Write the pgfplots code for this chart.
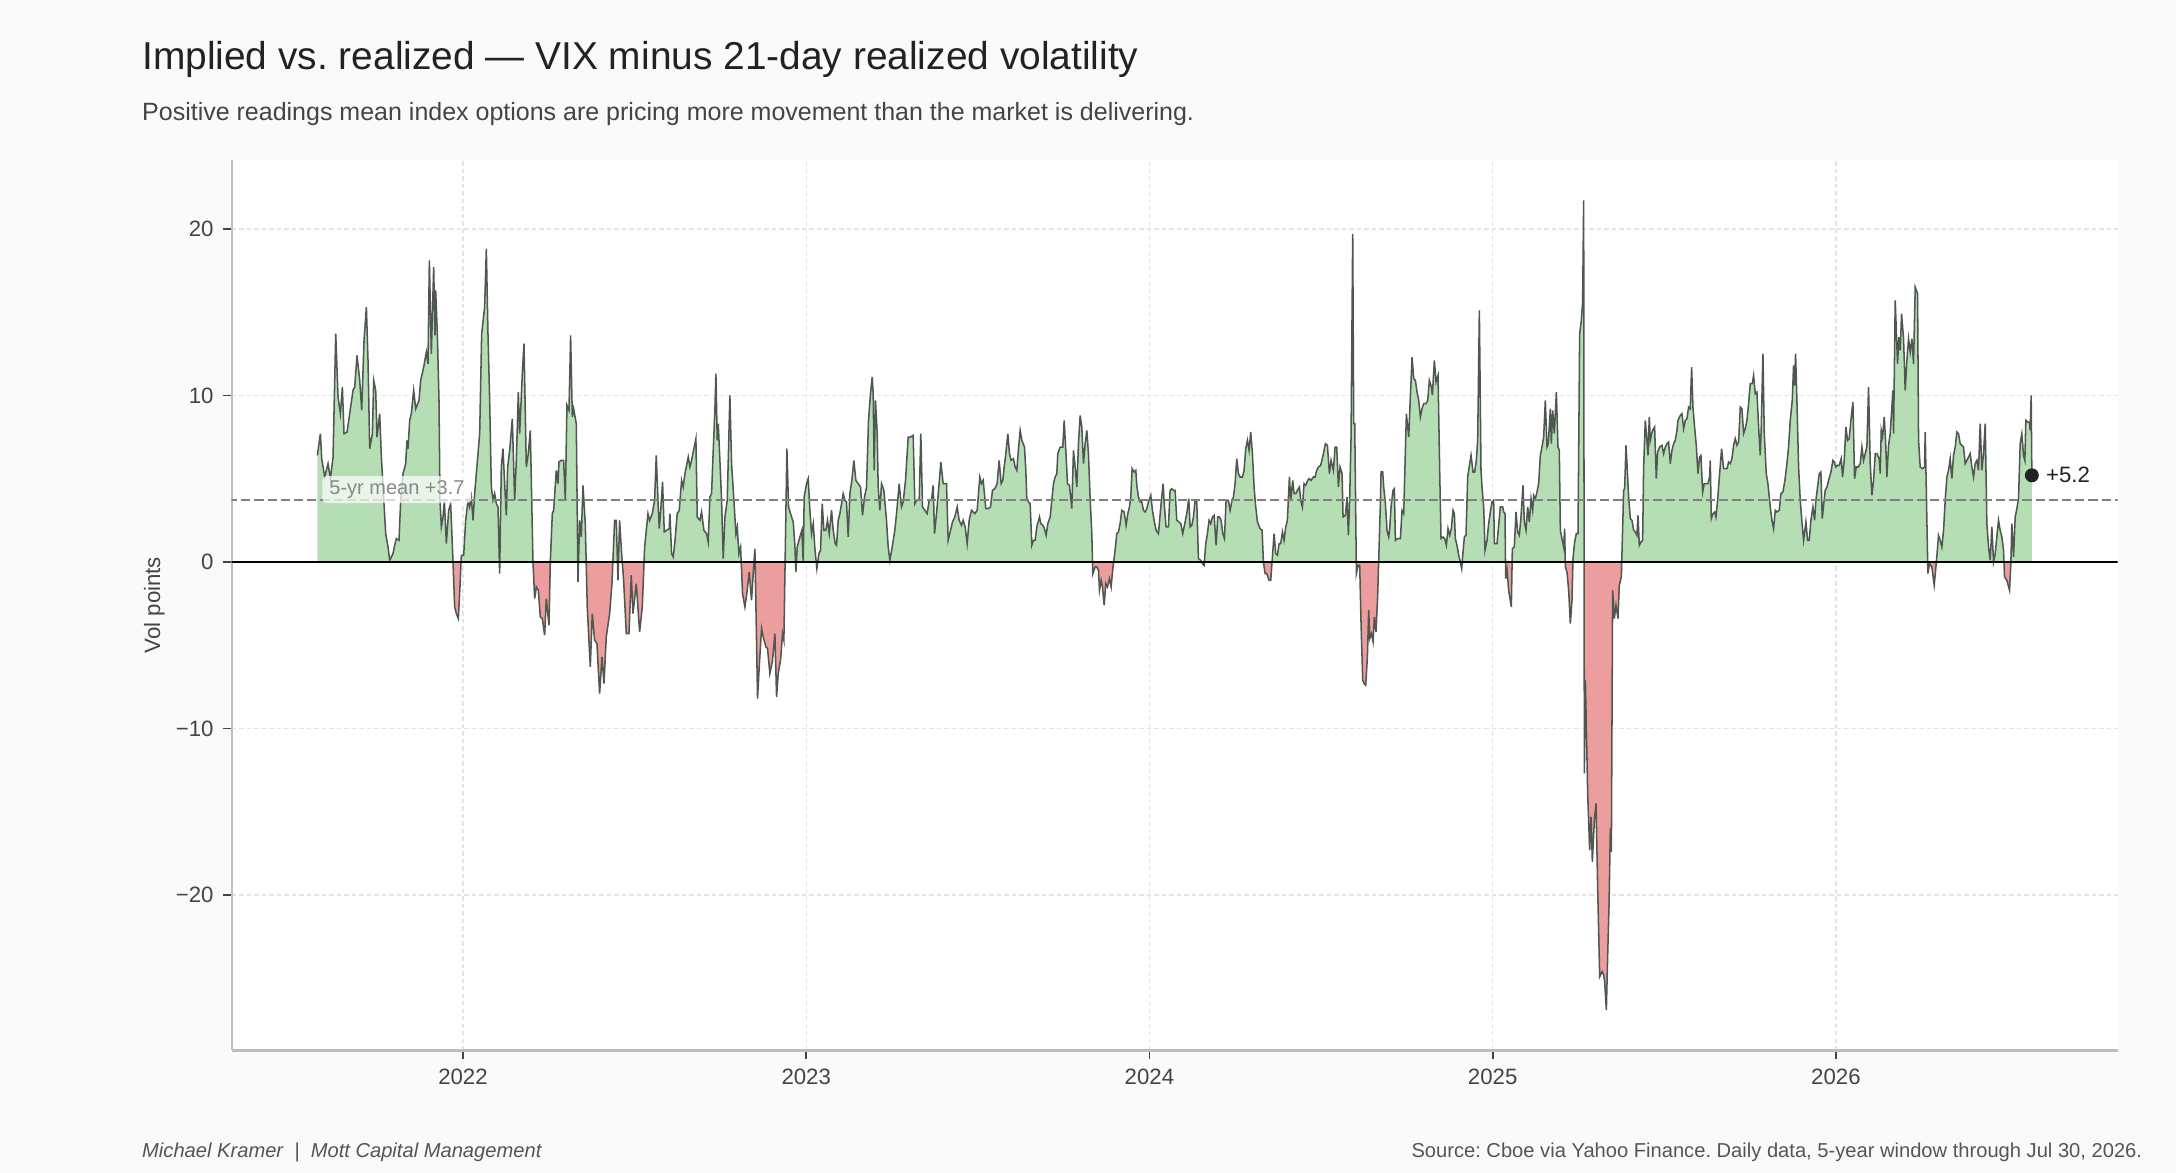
\documentclass[border=0pt]{standalone}
\usepackage{fontspec}
\setmainfont{Liberation Sans}
\usepackage{pgfplots}
\pgfplotsset{compat=1.18}
\usepackage{pgfplotstable}
\frenchspacing
\definecolor{bgc}{RGB}{250,250,250}
\definecolor{titlec}{RGB}{34,34,34}
\definecolor{subc}{RGB}{68,68,68}
\definecolor{tickc}{RGB}{68,68,68}
\definecolor{footc}{RGB}{85,85,85}
\definecolor{gridc}{RGB}{228,228,228}
\definecolor{spinec}{RGB}{190,190,190}
\definecolor{posg}{RGB}{181,222,181}
\definecolor{negr}{RGB}{236,158,158}
\definecolor{linec}{RGB}{80,87,80}
\definecolor{meanc}{RGB}{128,128,128}
\definecolor{annc}{RGB}{136,136,136}
\definecolor{dotc}{RGB}{34,34,34}

\pgfplotstableread{
x y
2021.5758 6.4
2021.5845 7.7
2021.5884 6.2
2021.5971 5.1
2021.6068 5.9
2021.6136 5.0
2021.6214 6.3
2021.6292 13.7
2021.6360 9.9
2021.6427 8.9
2021.6486 10.5
2021.6534 7.7
2021.6622 7.8
2021.6699 8.9
2021.6796 10.3
2021.6845 10.5
2021.6913 12.4
2021.6991 10.9
2021.7049 9.1
2021.7117 13.3
2021.7185 15.3
2021.7233 12.1
2021.7282 6.8
2021.7360 7.7
2021.7398 10.9
2021.7457 10.3
2021.7495 7.5
2021.7573 8.9
2021.7622 6.3
2021.7748 1.7
2021.7816 0.9
2021.7864 0.1
2021.7961 0.5
2021.8010 1.0
2021.8059 1.4
2021.8136 1.3
2021.8185 3.7
2021.8253 5.3
2021.8330 5.9
2021.8369 7.3
2021.8398 6.8
2021.8447 8.5
2021.8495 8.9
2021.8563 10.3
2021.8622 9.2
2021.8719 9.7
2021.8767 10.9
2021.8855 11.7
2021.8932 12.6
2021.8981 11.9
2021.9020 18.1
2021.9078 12.5
2021.9146 17.7
2021.9185 13.6
2021.9204 16.3
2021.9253 13.7
2021.9301 9.7
2021.9330 3.7
2021.9369 2.1
2021.9418 2.7
2021.9457 3.7
2021.9515 1.1
2021.9583 3.1
2021.9641 3.5
2021.9709 0.0
2021.9758 -2.7
2021.9806 -3.1
2021.9864 -3.4
2021.9903 -1.9
2021.9952 0.4
2022.0020 0.4
2022.0078 2.5
2022.0146 3.7
2022.0194 3.3
2022.0243 3.9
2022.0292 2.5
2022.0340 4.1
2022.0389 5.3
2022.0486 7.7
2022.0544 13.7
2022.0631 15.3
2022.0680 18.8
2022.0728 13.7
2022.0777 9.7
2022.0826 4.5
2022.0874 3.7
2022.0923 4.1
2022.0971 3.5
2022.1020 3.3
2022.1068 -0.7
2022.1117 5.7
2022.1165 6.8
2022.1214 4.7
2022.1262 2.8
2022.1301 5.7
2022.1360 6.7
2022.1437 8.6
2022.1505 3.7
2022.1554 6.1
2022.1612 10.2
2022.1651 7.7
2022.1728 11.3
2022.1777 13.1
2022.1845 5.7
2022.1903 6.5
2022.1961 7.9
2022.2039 0.0
2022.2088 -2.2
2022.2136 -1.5
2022.2194 -1.7
2022.2253 -3.3
2022.2311 -3.4
2022.2379 -4.4
2022.2427 -2.2
2022.2505 -3.8
2022.2544 0.0
2022.2602 2.9
2022.2641 3.1
2022.2719 5.5
2022.2767 4.7
2022.2796 6.0
2022.2864 6.1
2022.2932 6.1
2022.2981 3.7
2022.3029 9.4
2022.3088 9.1
2022.3136 13.6
2022.3185 8.7
2022.3224 9.2
2022.3301 8.3
2022.3350 -1.2
2022.3398 2.5
2022.3447 1.5
2022.3495 4.6
2022.3563 2.3
2022.3620 -2.7
2022.3709 -6.3
2022.3767 -3.1
2022.3835 -4.7
2022.3903 -4.9
2022.3981 -7.9
2022.4049 -5.7
2022.4107 -7.3
2022.4175 -4.5
2022.4272 -3.1
2022.4340 -1.3
2022.4418 2.5
2022.4466 2.5
2022.4515 -1.1
2022.4563 2.5
2022.4622 0.5
2022.4680 -1.1
2022.4758 -4.3
2022.4835 -4.3
2022.4903 -0.8
2022.4952 -3.1
2022.5049 -1.3
2022.5146 -4.2
2022.5224 -2.7
2022.5292 0.9
2022.5389 2.9
2022.5437 2.5
2022.5515 2.9
2022.5583 3.7
2022.5631 6.4
2022.5689 3.3
2022.5718 2.0
2022.5767 3.3
2022.5815 4.8
2022.5864 1.8
2022.5932 1.9
2022.6009 2.0
2022.6029 2.9
2022.6077 0.5
2022.6126 0.3
2022.6174 1.2
2022.6242 2.9
2022.6301 3.1
2022.6369 4.9
2022.6417 4.5
2022.6466 5.3
2022.6563 6.3
2022.6611 5.7
2022.6660 6.1
2022.6728 6.8
2022.6786 7.4
2022.6825 2.7
2022.6903 2.5
2022.6951 3.0
2022.7019 1.9
2022.7097 1.7
2022.7145 1.2
2022.7194 3.9
2022.7242 4.1
2022.7291 6.7
2022.7339 9.1
2022.7369 11.3
2022.7407 7.3
2022.7437 8.3
2022.7485 6.1
2022.7534 3.7
2022.7582 0.2
2022.7631 2.7
2022.7699 3.7
2022.7776 10.0
2022.7825 5.9
2022.7893 3.7
2022.7951 1.7
2022.7990 2.1
2022.8038 0.5
2022.8087 0.9
2022.8145 -1.9
2022.8213 -2.7
2022.8281 -1.7
2022.8339 -0.6
2022.8407 -2.3
2022.8456 -0.7
2022.8505 0.8
2022.8582 -8.2
2022.8631 -6.3
2022.8699 -4.0
2022.8747 -4.5
2022.8825 -5.1
2022.8873 -5.2
2022.8941 -6.7
2022.9019 -5.9
2022.9087 -4.3
2022.9136 -8.1
2022.9184 -6.7
2022.9252 -5.9
2022.9310 -4.3
2022.9349 -4.7
2022.9437 6.8
2022.9485 3.3
2022.9543 2.9
2022.9621 2.4
2022.9670 1.0
2022.9699 -0.6
2022.9738 0.9
2022.9815 1.5
2022.9873 1.9
2022.9912 0.0
2022.9941 3.9
2023.0009 4.7
2023.0058 5.0
2023.0106 3.1
2023.0155 1.7
2023.0204 2.3
2023.0252 0.8
2023.0310 -0.4
2023.0369 0.5
2023.0417 0.7
2023.0466 3.5
2023.0514 1.9
2023.0572 1.9
2023.0621 2.5
2023.0670 1.7
2023.0738 3.1
2023.0786 1.9
2023.0844 1.1
2023.0883 1.0
2023.0932 2.5
2023.0980 2.9
2023.1038 3.6
2023.1077 4.1
2023.1126 3.7
2023.1174 3.6
2023.1223 1.5
2023.1272 4.1
2023.1330 4.9
2023.1388 6.1
2023.1446 4.9
2023.1514 4.7
2023.1582 4.5
2023.1640 2.8
2023.1699 3.9
2023.1757 4.5
2023.1815 8.5
2023.1873 10.1
2023.1922 11.1
2023.1951 10.1
2023.1980 5.5
2023.2019 9.7
2023.2068 7.7
2023.2097 4.5
2023.2145 3.1
2023.2194 4.7
2023.2262 4.3
2023.2339 2.5
2023.2388 0.9
2023.2437 0.1
2023.2505 0.9
2023.2582 1.9
2023.2650 3.3
2023.2708 4.7
2023.2776 3.3
2023.2825 3.6
2023.2893 4.9
2023.2971 7.5
2023.3038 7.5
2023.3116 7.6
2023.3165 3.5
2023.3213 3.7
2023.3291 3.7
2023.3339 7.7
2023.3388 3.3
2023.3456 3.1
2023.3524 2.9
2023.3582 3.7
2023.3650 3.7
2023.3699 4.6
2023.3738 1.7
2023.3796 2.9
2023.3864 4.5
2023.3922 6.0
2023.3990 4.7
2023.4087 4.7
2023.4136 1.3
2023.4204 1.9
2023.4262 2.4
2023.4330 2.7
2023.4398 3.3
2023.4456 2.5
2023.4524 2.2
2023.4572 2.5
2023.4631 2.1
2023.4689 1.1
2023.4747 2.5
2023.4815 3.1
2023.4912 2.9
2023.4980 3.1
2023.5058 5.1
2023.5106 4.7
2023.5155 4.9
2023.5233 3.2
2023.5301 3.2
2023.5369 3.3
2023.5427 4.3
2023.5495 4.4
2023.5563 4.7
2023.5621 6.1
2023.5680 4.7
2023.5728 4.9
2023.5767 5.7
2023.5816 6.5
2023.5874 7.7
2023.5922 6.5
2023.5971 6.1
2023.6039 6.2
2023.6087 5.7
2023.6136 5.5
2023.6185 6.8
2023.6233 7.9
2023.6282 7.3
2023.6359 6.9
2023.6398 5.5
2023.6427 3.8
2023.6476 3.6
2023.6524 3.5
2023.6573 1.0
2023.6621 1.3
2023.6670 1.3
2023.6718 2.1
2023.6796 2.7
2023.6835 2.3
2023.6893 2.2
2023.6942 2.0
2023.6990 1.6
2023.7039 2.3
2023.7107 2.7
2023.7155 3.7
2023.7204 4.7
2023.7252 5.1
2023.7301 5.3
2023.7330 6.5
2023.7398 6.9
2023.7476 6.9
2023.7515 8.5
2023.7563 6.7
2023.7612 4.7
2023.7670 4.6
2023.7738 3.2
2023.7786 6.7
2023.7835 5.7
2023.7884 4.5
2023.7932 7.1
2023.7981 8.8
2023.8029 8.1
2023.8078 5.9
2023.8126 7.1
2023.8175 7.9
2023.8223 6.5
2023.8272 3.8
2023.8320 1.7
2023.8350 -0.7
2023.8418 -0.3
2023.8466 -0.3
2023.8515 -0.5
2023.8544 -1.7
2023.8592 -1.1
2023.8631 -1.5
2023.8680 -2.6
2023.8728 -1.3
2023.8777 -1.5
2023.8835 -1.0
2023.8884 -1.5
2023.8932 -0.4
2023.9000 0.7
2023.9049 1.7
2023.9097 1.8
2023.9146 2.3
2023.9194 3.1
2023.9262 3.0
2023.9320 2.2
2023.9369 2.9
2023.9418 3.3
2023.9456 3.9
2023.9495 5.6
2023.9553 5.4
2023.9602 5.5
2023.9631 4.6
2023.9680 3.9
2023.9728 3.6
2023.9777 3.6
2023.9825 3.1
2023.9874 3.0
2023.9922 3.2
2023.9971 3.6
2024.0039 4.0
2024.0087 3.1
2024.0136 2.5
2024.0194 1.9
2024.0262 1.7
2024.0340 3.5
2024.0398 4.7
2024.0437 3.3
2024.0485 2.1
2024.0553 2.1
2024.0602 4.3
2024.0651 4.4
2024.0699 4.3
2024.0748 4.3
2024.0796 2.5
2024.0864 2.4
2024.0913 2.3
2024.0971 1.7
2024.1019 2.2
2024.1087 2.9
2024.1146 3.8
2024.1185 2.1
2024.1233 2.2
2024.1282 2.7
2024.1330 3.7
2024.1379 3.6
2024.1427 0.2
2024.1495 0.1
2024.1544 -0.1
2024.1592 -0.2
2024.1641 1.1
2024.1689 1.7
2024.1738 2.5
2024.1786 2.3
2024.1835 2.7
2024.1884 2.8
2024.1942 1.0
2024.1990 2.7
2024.2039 2.7
2024.2087 2.5
2024.2136 1.7
2024.2185 1.4
2024.2233 3.7
2024.2301 3.7
2024.2350 3.1
2024.2408 3.7
2024.2447 3.9
2024.2495 4.7
2024.2544 6.2
2024.2592 5.3
2024.2641 5.1
2024.2709 5.1
2024.2757 5.5
2024.2806 6.8
2024.2854 7.3
2024.2903 6.7
2024.2951 7.8
2024.3000 6.5
2024.3049 4.5
2024.3087 3.5
2024.3146 2.4
2024.3223 2.0
2024.3282 1.9
2024.3320 0.0
2024.3369 -0.7
2024.3418 -0.7
2024.3485 -1.1
2024.3534 -1.1
2024.3631 1.7
2024.3680 0.5
2024.3728 0.4
2024.3777 1.1
2024.3825 1.1
2024.3874 1.8
2024.3922 1.3
2024.3971 2.1
2024.4019 2.5
2024.4078 5.1
2024.4117 3.7
2024.4175 4.9
2024.4214 4.1
2024.4262 4.1
2024.4311 4.3
2024.4369 4.5
2024.4408 3.7
2024.4456 3.3
2024.4505 4.7
2024.4553 4.6
2024.4612 4.9
2024.4660 5.0
2024.4709 4.9
2024.4777 5.1
2024.4825 5.1
2024.4874 5.5
2024.4922 5.7
2024.4990 5.8
2024.5068 6.5
2024.5126 7.1
2024.5185 7.0
2024.5243 5.3
2024.5291 6.1
2024.5359 5.5
2024.5408 6.9
2024.5456 6.9
2024.5505 4.5
2024.5553 5.7
2024.5612 5.3
2024.5641 2.7
2024.5709 2.8
2024.5757 3.9
2024.5796 1.6
2024.5835 3.9
2024.5874 7.5
2024.5922 19.7
2024.5951 8.3
2024.5981 8.3
2024.6029 -0.7
2024.6078 -0.2
2024.6126 -0.2
2024.6165 -3.7
2024.6214 -7.1
2024.6252 -7.3
2024.6301 -7.4
2024.6350 -5.7
2024.6388 -2.9
2024.6418 -4.6
2024.6466 -4.3
2024.6515 -4.8
2024.6553 -3.3
2024.6602 -4.2
2024.6651 -1.9
2024.6728 3.5
2024.6748 5.4
2024.6796 5.4
2024.6825 4.5
2024.6874 3.5
2024.6922 1.9
2024.6971 1.5
2024.7000 2.0
2024.7039 3.3
2024.7097 4.3
2024.7136 4.4
2024.7165 1.3
2024.7214 1.4
2024.7311 1.4
2024.7359 3.1
2024.7408 2.9
2024.7486 8.9
2024.7554 7.5
2024.7602 9.9
2024.7651 12.3
2024.7699 11.0
2024.7748 10.9
2024.7796 10.2
2024.7845 9.7
2024.7893 8.7
2024.7942 9.2
2024.7990 9.5
2024.8058 9.5
2024.8107 9.7
2024.8155 10.9
2024.8214 10.5
2024.8243 10.0
2024.8301 12.1
2024.8350 10.8
2024.8408 11.2
2024.8456 5.5
2024.8495 1.4
2024.8554 1.5
2024.8602 1.4
2024.8651 1.0
2024.8699 2.0
2024.8748 1.6
2024.8796 2.0
2024.8845 3.1
2024.8884 2.9
2024.8913 1.4
2024.8961 1.0
2024.9010 0.4
2024.9058 0.0
2024.9097 -0.4
2024.9136 0.6
2024.9175 1.5
2024.9223 1.6
2024.9272 5.1
2024.9330 5.9
2024.9369 6.4
2024.9427 5.4
2024.9476 5.4
2024.9524 6.1
2024.9563 7.3
2024.9612 15.1
2024.9660 5.5
2024.9689 4.5
2024.9738 3.3
2024.9777 0.7
2024.9835 1.3
2024.9883 2.3
2024.9932 3.0
2024.9981 3.6
2025.0029 3.7
2025.0049 1.1
2025.0126 1.1
2025.0175 2.2
2025.0223 3.3
2025.0292 3.3
2025.0320 3.0
2025.0359 2.9
2025.0379 -1.0
2025.0418 -0.5
2025.0466 -1.7
2025.0544 -2.7
2025.0573 0.8
2025.0631 0.9
2025.0680 3.0
2025.0728 1.8
2025.0777 1.6
2025.0825 2.7
2025.0884 4.6
2025.0922 2.4
2025.0971 1.9
2025.1020 3.3
2025.1068 2.4
2025.1117 3.8
2025.1165 3.1
2025.1194 4.0
2025.1243 3.8
2025.1291 4.2
2025.1340 4.7
2025.1388 6.4
2025.1437 6.9
2025.1486 7.5
2025.1534 9.7
2025.1583 6.9
2025.1621 7.1
2025.1680 9.2
2025.1709 7.1
2025.1748 9.1
2025.1796 7.7
2025.1855 10.2
2025.1903 6.9
2025.1942 6.7
2025.1971 1.9
2025.2019 1.4
2025.2068 0.9
2025.2097 2.0
2025.2117 -0.3
2025.2165 -0.6
2025.2214 -1.7
2025.2262 -3.7
2025.2311 -2.3
2025.2340 0.2
2025.2388 1.2
2025.2437 1.7
2025.2486 1.7
2025.2534 13.7
2025.2583 14.5
2025.2621 15.6
2025.2651 21.7
2025.2671 -12.7
2025.2700 -7.1
2025.2729 -9.9
2025.2768 -13.9
2025.2826 -17.3
2025.2865 -15.3
2025.2904 -18.0
2025.2962 -15.5
2025.3011 -14.5
2025.3059 -19.6
2025.3118 -24.9
2025.3186 -24.6
2025.3234 -24.8
2025.3263 -25.2
2025.3312 -26.9
2025.3351 -23.6
2025.3390 -20.6
2025.3429 -16.0
2025.3458 -17.4
2025.3495 -1.7
2025.3544 -3.4
2025.3592 -2.6
2025.3651 -3.4
2025.3689 -1.4
2025.3748 -0.9
2025.3816 4.3
2025.3845 4.4
2025.3884 7.0
2025.3913 5.9
2025.3961 3.9
2025.4010 2.6
2025.4058 2.5
2025.4107 1.9
2025.4155 1.8
2025.4204 1.6
2025.4233 2.8
2025.4272 1.0
2025.4320 1.2
2025.4369 1.3
2025.4398 5.7
2025.4447 8.5
2025.4495 7.3
2025.4524 6.4
2025.4563 8.7
2025.4592 7.3
2025.4641 7.8
2025.4689 8.0
2025.4718 8.1
2025.4767 5.0
2025.4806 6.6
2025.4864 6.9
2025.4932 7.0
2025.4981 6.5
2025.5029 6.9
2025.5078 7.1
2025.5126 7.2
2025.5175 5.9
2025.5223 6.7
2025.5272 7.1
2025.5320 7.3
2025.5369 7.9
2025.5398 8.5
2025.5466 8.8
2025.5515 8.9
2025.5563 8.0
2025.5612 8.5
2025.5660 8.6
2025.5709 9.3
2025.5757 9.2
2025.5796 11.7
2025.5835 9.3
2025.5874 8.3
2025.5932 7.0
2025.5981 5.3
2025.6029 6.3
2025.6068 6.4
2025.6117 4.2
2025.6165 4.7
2025.6223 4.7
2025.6272 4.7
2025.6320 5.1
2025.6340 6.1
2025.6369 2.6
2025.6417 2.9
2025.6466 3.0
2025.6505 2.7
2025.6553 3.7
2025.6612 5.3
2025.6670 6.8
2025.6728 5.6
2025.6777 5.6
2025.6825 5.6
2025.6874 6.0
2025.6922 5.9
2025.6971 6.2
2025.7019 7.0
2025.7068 7.4
2025.7117 7.0
2025.7165 7.2
2025.7214 9.3
2025.7262 9.2
2025.7311 7.7
2025.7359 8.0
2025.7408 8.5
2025.7456 9.5
2025.7505 10.7
2025.7563 10.7
2025.7602 11.2
2025.7650 10.1
2025.7699 10.2
2025.7748 8.1
2025.7796 6.4
2025.7825 8.1
2025.7874 12.5
2025.7913 7.7
2025.7971 5.3
2025.8019 4.7
2025.8087 3.3
2025.8136 2.5
2025.8184 2.0
2025.8233 3.1
2025.8282 3.0
2025.8350 3.1
2025.8398 4.1
2025.8456 4.2
2025.8515 4.9
2025.8573 5.9
2025.8621 6.9
2025.8670 8.5
2025.8728 9.7
2025.8767 11.8
2025.8796 10.6
2025.8825 12.5
2025.8864 9.7
2025.8913 5.7
2025.8961 3.7
2025.9010 2.4
2025.9058 1.3
2025.9126 2.4
2025.9175 1.3
2025.9223 1.3
2025.9272 2.5
2025.9330 3.3
2025.9379 2.5
2025.9417 3.7
2025.9466 4.5
2025.9515 5.3
2025.9563 5.4
2025.9602 2.6
2025.9641 3.4
2025.9689 4.3
2025.9738 4.5
2025.9786 4.9
2025.9855 5.4
2025.9913 6.1
2025.9951 6.0
2026.0000 5.7
2026.0049 5.8
2026.0097 5.8
2026.0155 6.2
2026.0194 5.1
2026.0243 6.1
2026.0291 8.1
2026.0340 7.3
2026.0388 7.4
2026.0437 8.5
2026.0495 9.6
2026.0544 5.0
2026.0592 5.7
2026.0650 5.7
2026.0709 5.9
2026.0757 6.9
2026.0806 6.1
2026.0854 6.5
2026.0903 6.9
2026.0951 10.5
2026.1000 5.9
2026.1049 4.0
2026.1097 4.9
2026.1146 6.5
2026.1194 6.5
2026.1262 6.2
2026.1291 5.3
2026.1321 7.9
2026.1359 7.5
2026.1408 8.7
2026.1447 7.3
2026.1485 5.1
2026.1534 7.0
2026.1582 7.7
2026.1631 9.3
2026.1660 10.3
2026.1680 7.7
2026.1728 15.7
2026.1796 11.9
2026.1835 13.5
2026.1874 12.7
2026.1913 14.9
2026.1971 13.4
2026.2019 10.3
2026.2068 12.1
2026.2116 13.4
2026.2165 12.6
2026.2214 13.4
2026.2262 11.9
2026.2311 16.5
2026.2379 16.1
2026.2408 7.3
2026.2456 5.7
2026.2525 5.6
2026.2583 5.7
2026.2602 7.8
2026.2680 -0.7
2026.2728 -0.1
2026.2796 -0.3
2026.2864 -1.4
2026.2923 -0.1
2026.2990 1.6
2026.3039 1.3
2026.3087 0.9
2026.3136 1.9
2026.3184 3.7
2026.3233 5.1
2026.3282 5.5
2026.3330 6.2
2026.3379 5.0
2026.3427 6.4
2026.3476 6.9
2026.3524 7.8
2026.3573 7.7
2026.3621 7.1
2026.3670 7.0
2026.3718 6.9
2026.3767 5.9
2026.3816 6.1
2026.3864 6.3
2026.3913 6.5
2026.3961 5.7
2026.4010 5.1
2026.4058 5.9
2026.4107 6.1
2026.4155 5.5
2026.4204 8.3
2026.4252 5.5
2026.4301 6.5
2026.4350 8.3
2026.4398 2.3
2026.4447 0.9
2026.4495 0.1
2026.4544 2.1
2026.4592 0.0
2026.4641 0.5
2026.4689 1.5
2026.4738 2.5
2026.4786 1.9
2026.4835 1.5
2026.4884 0.7
2026.4913 -0.9
2026.4981 -1.1
2026.5059 -1.7
2026.5097 -0.1
2026.5126 2.3
2026.5175 0.3
2026.5223 2.7
2026.5272 3.2
2026.5320 3.8
2026.5369 7.1
2026.5417 7.7
2026.5466 6.4
2026.5505 6.1
2026.5534 8.5
2026.5592 8.4
2026.5641 8.4
2026.5660 7.9
2026.5689 10.0
2026.5709 5.2
}\vrp

\begin{document}
\begin{tikzpicture}[x=1pt,y=1pt]
\fill[bgc] (0,0) rectangle (783.4,422.3);
\node[anchor=base west, inner sep=0, text=titlec, font=\fontsize{14}{16}\selectfont] at (51,397.3) {Implied vs.\ realized — VIX minus 21-day realized volatility};
\node[anchor=base west, inner sep=0, text=subc, font=\fontsize{9}{11}\selectfont] at (51,378.9) {Positive readings mean index options are pricing more movement than the market is delivering.};
\begin{axis}[
  at={(83.4pt,44.1pt)}, anchor=south west,
  width=679pt, height=320.7pt, scale only axis,
  xmin=2021.326, xmax=2026.821, ymin=-29.33, ymax=24.15,
  axis background/.style={fill=white},
  axis x line*=bottom, axis y line*=left,
  axis line style={draw=spinec, line width=0.8pt, -},
  xtick={2022,2023,2024,2025,2026},
  xticklabels={2022,2023,2024,2025,2026},
  ytick={-20,-10,0,10,20},
  yticklabels={−20,−10,0,10,20},
  tick align=outside, major tick length=3pt,
  tick style={draw=tickc, line width=0.6pt},
  ticklabel style={font=\fontsize{8}{9}\selectfont, text=tickc},
  grid=major,
  major grid style={draw=gridc, line width=0.5pt, dash pattern=on 1.6pt off 1.1pt},
  clip=true,
]
\begin{scope}
\clip (axis cs:2021,0) rectangle (axis cs:2027,30);
\addplot[draw=none, fill=posg] table[x=x,y=y] {\vrp} \closedcycle;
\end{scope}
\begin{scope}
\clip (axis cs:2021,-35) rectangle (axis cs:2027,0);
\addplot[draw=none, fill=negr] table[x=x,y=y] {\vrp} \closedcycle;
\end{scope}
\addplot[linec, line width=0.55pt] table[x=x,y=y] {\vrp};
\addplot[meanc, line width=0.75pt, dash pattern=on 3.3pt off 1.45pt] coordinates {(2021.2,3.7) (2027,3.7)};
\addplot[black, line width=0.95pt] coordinates {(2021.2,0) (2027,0)};
\addplot[only marks, mark=*, mark size=2.3pt, mark options={fill=dotc, draw=dotc}] coordinates {(2026.5709,5.2)};
\node[anchor=west, inner sep=0, xshift=4.9pt, text=titlec, font=\fontsize{8}{9}\selectfont] at (axis cs:2026.5709,5.2) {+5.2};
\node[anchor=south west, fill=white, fill opacity=0.7, text opacity=1, rounded corners=1.5pt, inner xsep=2.5pt, inner ysep=1.6pt, text=annc, font=\fontsize{7.2}{8}\selectfont] at (axis cs:2021.589,3.5) {5-yr mean +3.7};
\end{axis}
\node[rotate=90, anchor=center, inner sep=0, text=tickc, font=\fontsize{8}{9}\selectfont] at (55.6,204.45) {Vol points};
\node[anchor=base west, inner sep=0, text=footc, font=\fontsize{7.25}{8}\selectfont\itshape] at (51,5.6) {Michael Kramer \ | \ Mott Capital Management};
\node[anchor=base east, inner sep=0, text=footc, font=\fontsize{7.25}{8}\selectfont] at (771.4,5.6) {Source: Cboe via Yahoo Finance. Daily data, 5-year window through Jul 30, 2026.};
\end{tikzpicture}
\end{document}
